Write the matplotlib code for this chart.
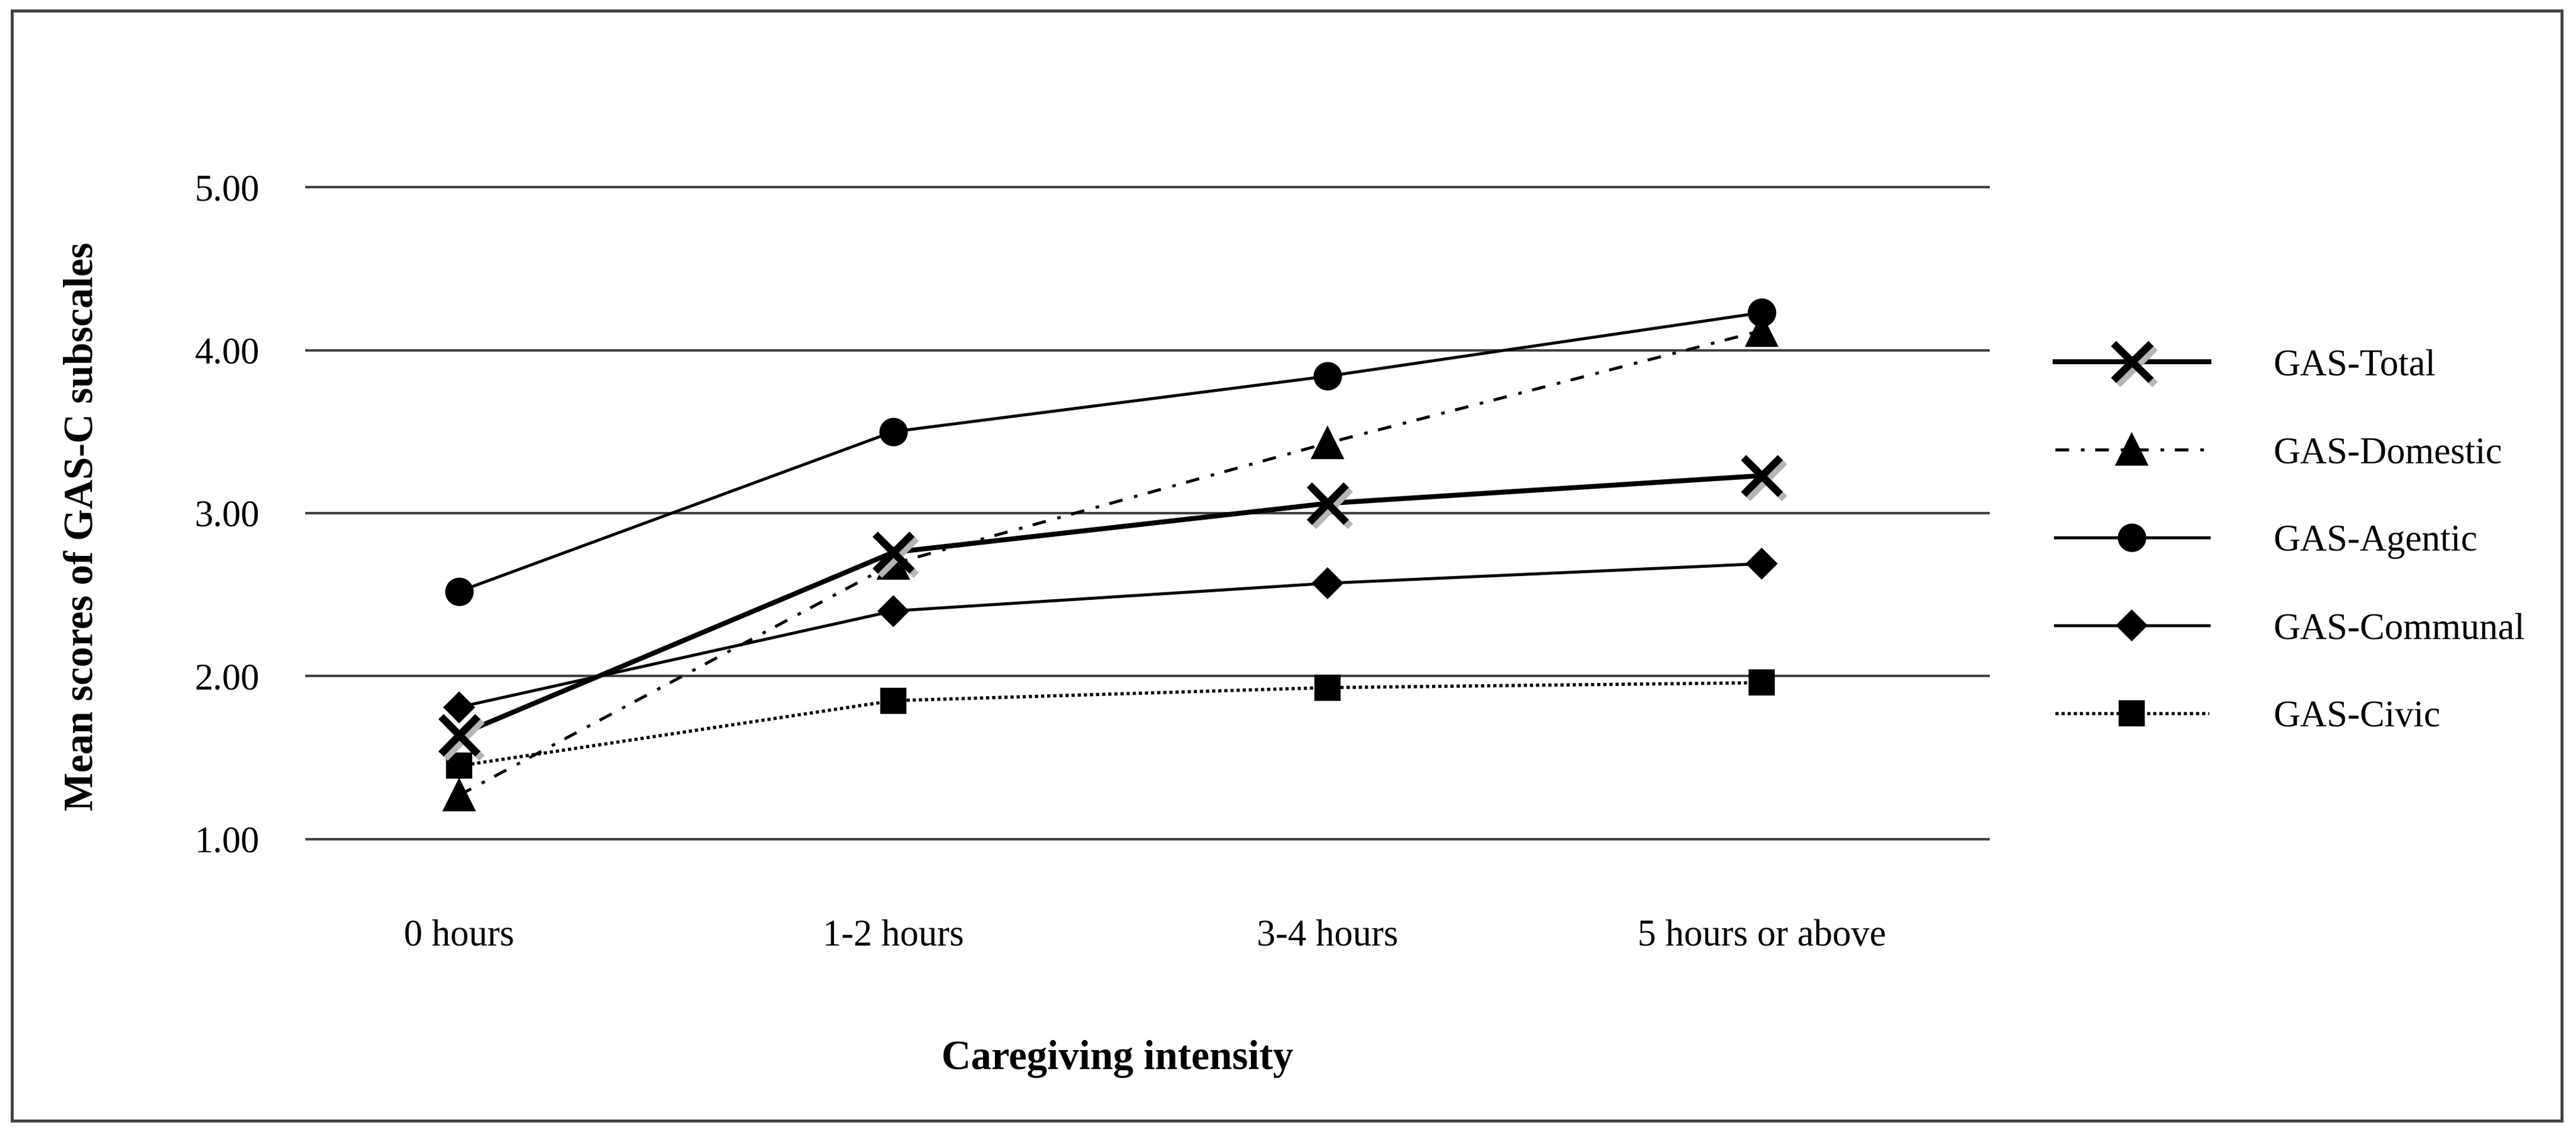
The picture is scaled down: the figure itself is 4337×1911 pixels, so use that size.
import matplotlib
matplotlib.use("Agg")
import matplotlib.pyplot as plt
import matplotlib.patheffects as pe
from matplotlib.patches import Rectangle
from matplotlib.legend_handler import HandlerTuple

plt.rcParams['font.family'] = ['Liberation Serif', 'DejaVu Serif']

# --- data ---
categories = ["0 hours", "1-2 hours", "3-4 hours", "5 hours or above"]
gas_total = [1.64, 2.76, 3.06, 3.23]
gas_domestic = [1.27, 2.69, 3.43, 4.12]
gas_agentic = [2.52, 3.50, 3.84, 4.23]
gas_communal = [1.81, 2.40, 2.57, 2.69]
gas_civic = [1.45, 1.85, 1.93, 1.96]
y_ticks = [1.0, 2.0, 3.0, 4.0, 5.0]

W, H, DPI = 4337, 1911, 300
fig = plt.figure(figsize=(W / DPI, H / DPI), dpi=DPI)

# axes placed so that gridlines span the same pixels as the reference
ax = fig.add_axes([514 / W, 484.3 / H, 2836 / W, 1125.4 / H])
x = list(range(len(categories)))

ax.plot(x, gas_domestic, color='black', lw=1.2, linestyle=(0, (4.6, 4, 1.2, 3.6)),
        marker='^', markersize=12, zorder=3, label='GAS-Domestic')
ax.plot(x, gas_agentic, color='black', lw=1.2, marker='o', markersize=10.5,
        zorder=3, label='GAS-Agentic')
ax.plot(x, gas_communal, color='black', lw=1.2, marker='D', markersize=8,
        zorder=3, label='GAS-Communal')
ax.plot(x, gas_civic, color='black', lw=1.3, linestyle=(0, (1, 0.9)),
        marker='s', markersize=9.5, zorder=3, label='GAS-Civic')

# total: thick line + x markers with a grey drop shadow
tot_line, = ax.plot(x, gas_total, color='black', lw=2.0, zorder=4)
tot_mark, = ax.plot(x, gas_total, color='black', lw=0, marker='x', markersize=15,
                    markeredgewidth=3, zorder=5,
                    path_effects=[pe.SimpleLineShadow(offset=(1.7, -1.7),
                                                      shadow_color='#b5b5b5', alpha=1),
                                  pe.Normal()])

ax.set_xlim(-0.3543, 3.5253)
ax.set_ylim(0.95, 5.05)
ax.set_xticks(x)
ax.set_xticklabels(categories)
ax.set_yticks(y_ticks)
ax.set_yticklabels([f"{v:.2f}" for v in y_ticks])
ax.tick_params(axis='both', length=0, labelsize=15)
ax.tick_params(axis='y', pad=18.5)
ax.tick_params(axis='x', pad=29)
ax.yaxis.grid(True, color='#404040', lw=1.0)
ax.set_axisbelow(True)
for s in ax.spines.values():
    s.set_visible(False)

# axis titles
fig.text(139 / W, 1 - 886 / H, "Mean scores of GAS-C subscales", rotation=90,
         ha='center', va='center', fontsize=16.5, fontweight='bold')
fig.text(1881 / W, 1 - 1783 / H, "Caregiving intensity",
         ha='center', va='center', fontsize=16.5, fontweight='bold')

# legend
handles = [(tot_line, tot_mark)] + ax.get_lines()[:4]
labels = ['GAS-Total', 'GAS-Domestic', 'GAS-Agentic', 'GAS-Communal', 'GAS-Civic']
ax.legend(handles, labels, handler_map={tuple: HandlerTuple(ndivide=1)},
          loc='upper left', bbox_to_anchor=(3460 / W, 1 - 587 / H),
          bbox_transform=fig.transFigure, frameon=False, fontsize=15,
          borderpad=0, borderaxespad=0, handlelength=4.14, handletextpad=1.73,
          labelspacing=1.44)

# outer frame around the whole picture
fig.patches.append(Rectangle((20 / W, 24 / H), (4313 - 20) / W, (1887 - 18) / H,
                             transform=fig.transFigure, fill=False,
                             ec='#444444', lw=1.2))

fig.savefig("out.png", dpi=DPI, facecolor='white')
